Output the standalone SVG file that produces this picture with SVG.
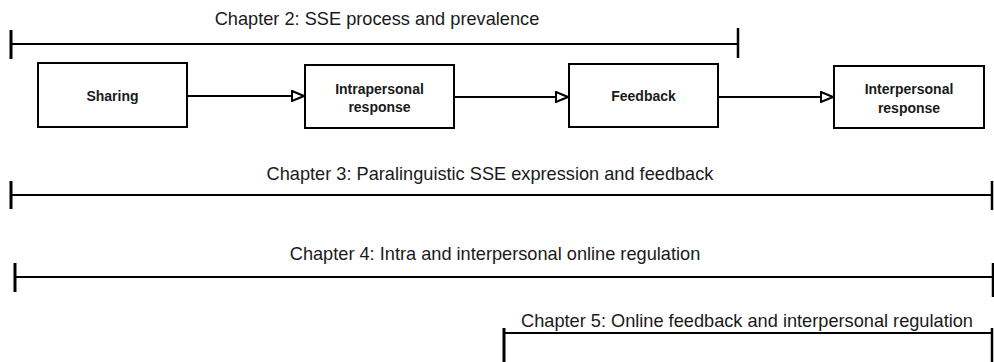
<svg xmlns="http://www.w3.org/2000/svg" width="994" height="362" viewBox="0 0 994 362">
  <style>
    .box { fill: #ffffff; stroke: #000000; stroke-width: 2; }
    .lbl { font-family: "Liberation Sans", Arial, sans-serif; font-weight: bold; font-size: 14px; fill: #1a1a1a; text-anchor: middle; }
    .ch { font-family: "Liberation Sans", Arial, sans-serif; font-size: 18.2px; fill: #1a1a1a; text-anchor: middle; }
    .span { stroke: #000000; stroke-width: 2; fill: none; }
    .tickL { stroke: #000000; stroke-width: 3; }
    .tickR { stroke: #000000; stroke-width: 2.5; }
    .conn { stroke: #000000; stroke-width: 2; fill: none; marker-end: url(#openArrow); }
  </style>
  <defs>
    <marker id="openArrow" viewBox="0 0 14 12" refX="13" refY="6" markerWidth="14" markerHeight="12" markerUnits="userSpaceOnUse" orient="auto">
      <path d="M1,1 L13,6 L1,11 Z" fill="#ffffff" stroke="#000000" stroke-width="2" stroke-linejoin="miter"/>
    </marker>
  </defs>

  <rect width="994" height="362" fill="#ffffff"/>

  <!-- chapter spans -->
  <g id="chapter2">
    <text class="ch" x="377" y="25">Chapter 2: SSE process and prevalence</text>
    <line class="span" x1="10" y1="44" x2="738" y2="44"/>
    <line class="tickL" x1="11" y1="30" x2="11" y2="59"/>
    <line class="tickR" x1="738" y1="28" x2="738" y2="58"/>
  </g>
  <g id="chapter3">
    <text class="ch" x="490" y="180">Chapter 3: Paralinguistic SSE expression and feedback</text>
    <line class="span" x1="10" y1="195" x2="992" y2="195"/>
    <line class="tickL" x1="11" y1="181" x2="11" y2="209"/>
    <line class="tickR" x1="992" y1="181" x2="992" y2="210"/>
  </g>
  <g id="chapter4">
    <text class="ch" x="495" y="260">Chapter 4: Intra and interpersonal online regulation</text>
    <line class="span" x1="14" y1="277" x2="993" y2="277"/>
    <line class="tickL" x1="15" y1="263" x2="15" y2="292"/>
    <line class="tickR" x1="993" y1="263" x2="993" y2="297"/>
  </g>
  <g id="chapter5">
    <text class="ch" x="747" y="327">Chapter 5: Online feedback and interpersonal regulation</text>
    <line class="span" x1="503" y1="333" x2="992" y2="333"/>
    <line class="tickL" x1="504" y1="328" x2="504" y2="362"/>
    <line class="tickR" x1="992" y1="328" x2="992" y2="362"/>
  </g>

  <!-- process nodes -->
  <g id="sharing">
    <rect class="box" x="38" y="63" width="149" height="64"/>
    <text class="lbl" x="112.5" y="101">Sharing</text>
  </g>
  <g id="intrapersonal">
    <rect class="box" x="305" y="65" width="149" height="63"/>
    <text class="lbl" x="379.5" y="94">Intrapersonal</text>
    <text class="lbl" x="379.5" y="112">response</text>
  </g>
  <g id="feedback">
    <rect class="box" x="569" y="64" width="149" height="63"/>
    <text class="lbl" x="643.5" y="101">Feedback</text>
  </g>
  <g id="interpersonal">
    <rect class="box" x="834" y="66" width="150" height="62"/>
    <text class="lbl" x="909" y="94">Interpersonal</text>
    <text class="lbl" x="909" y="113">response</text>
  </g>

  <!-- connectors -->
  <g id="connectors">
    <line class="conn" x1="187" y1="96" x2="304" y2="96"/>
    <line class="conn" x1="454" y1="97" x2="568" y2="97"/>
    <line class="conn" x1="718" y1="97" x2="833" y2="97"/>
  </g>
</svg>
